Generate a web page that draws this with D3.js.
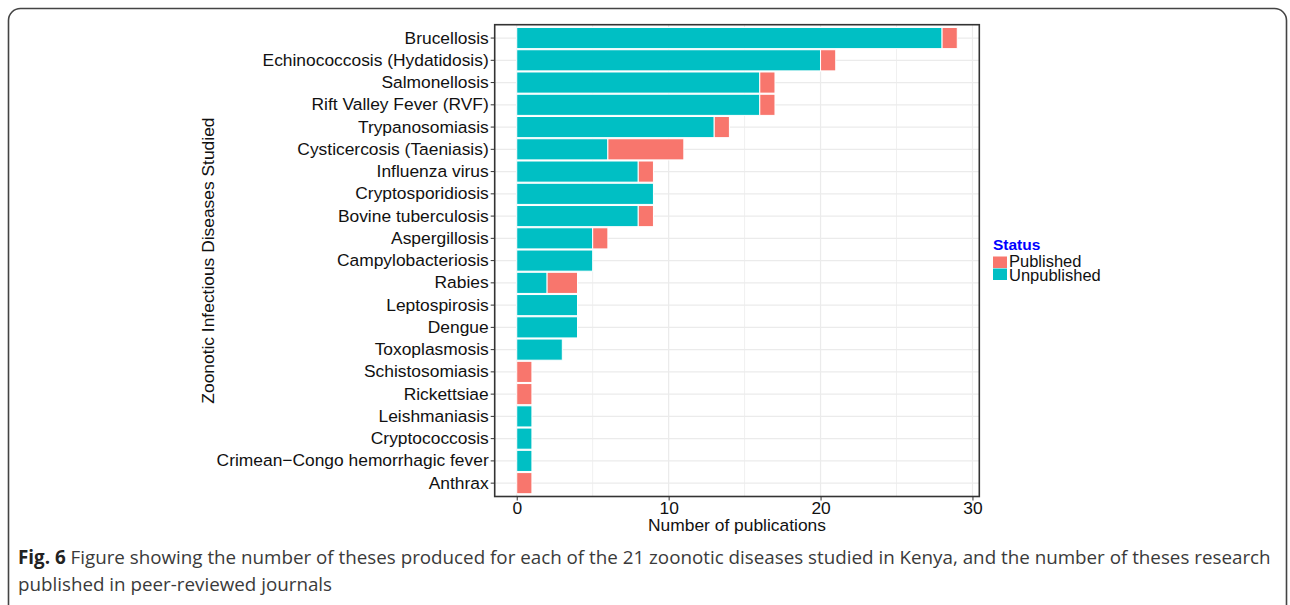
<!DOCTYPE html>
<html>
<head>
<meta charset="utf-8">
<script src="https://cdn.jsdelivr.net/npm/d3@7"></script>
<style>
  body { margin: 0; background: #fff; }
  svg { display: block; }
</style>
</head>
<body>
<div id="containerDiv"></div>
<script>
// diseases, top to bottom as drawn
const diseases = [
  "Brucellosis", "Echinococcosis (Hydatidosis)", "Salmonellosis", "Rift Valley Fever (RVF)",
  "Trypanosomiasis", "Cysticercosis (Taeniasis)", "Influenza virus", "Cryptosporidiosis",
  "Bovine tuberculosis", "Aspergillosis", "Campylobacteriosis", "Rabies", "Leptospirosis",
  "Dengue", "Toxoplasmosis", "Schistosomiasis", "Rickettsiae", "Leishmaniasis",
  "Cryptococcosis", "Crimean\u2212Congo hemorrhagic fever", "Anthrax"
];
// theses not published
const unpublished = [28, 20, 16, 16, 13, 6, 8, 9, 8, 5, 5, 2, 4, 4, 3, 0, 0, 1, 1, 1, 0];
// theses published in journals
const published = [1, 1, 1, 1, 1, 5, 1, 0, 1, 1, 0, 2, 0, 0, 0, 1, 1, 0, 0, 0, 1];
const statusLabels = ["Published", "Unpublished"];
const xTicks = [0, 10, 20, 30];
const xMinor = [5, 15, 25];

const W = 1290, H = 605;
const panel = { left: 494.7, right: 979.3, top: 24.7, bottom: 496.5 };
const colors = { Published: "#F8766D", Unpublished: "#00BFC4" };
const font = "Liberation Sans, Arial, Helvetica, sans-serif";
const fs = 17.4;

let svg = d3.select("#containerDiv").append("svg")
  .attr("width", W).attr("height", H);

// card outline
svg.append("rect")
  .attr("x", 8.5).attr("y", 8.5)
  .attr("width", 1278).attr("height", 640)
  .attr("rx", 12)
  .attr("fill", "none")
  .attr("stroke", "#444")
  .attr("stroke-width", 1.6);

// scales (ggplot style expansion)
const xmax = d3.max(diseases, (d, i) => unpublished[i] + published[i]);
const pad = xmax * 0.05;
let xScale = d3.scaleLinear().domain([-pad, xmax + pad]).range([panel.left, panel.right]);
let yScale = d3.scaleBand().domain(diseases)
  .range([panel.top, panel.bottom])
  .paddingOuter(0.1).paddingInner(0);

// grid
let grid = svg.append("g");
grid.selectAll(".minor").data(xMinor).enter().append("line")
  .attr("x1", d => xScale(d)).attr("x2", d => xScale(d))
  .attr("y1", panel.top).attr("y2", panel.bottom)
  .attr("stroke", "#f0f0f0").attr("stroke-width", 1);
grid.selectAll(".major").data(xTicks).enter().append("line")
  .attr("x1", d => xScale(d)).attr("x2", d => xScale(d))
  .attr("y1", panel.top).attr("y2", panel.bottom)
  .attr("stroke", "#ebebeb").attr("stroke-width", 1.2);
grid.selectAll(".hline").data(diseases).enter().append("line")
  .attr("x1", panel.left).attr("x2", panel.right)
  .attr("y1", d => yScale(d) + yScale.bandwidth() / 2)
  .attr("y2", d => yScale(d) + yScale.bandwidth() / 2)
  .attr("stroke", "#ebebeb").attr("stroke-width", 1.2);

// stacked bars: unpublished first, published after it
const bh = yScale.bandwidth() * 0.95;
let bars = svg.append("g");
diseases.forEach((d, i) => {
  const yc = yScale(d) + yScale.bandwidth() / 2;
  const segs = [
    { key: "Unpublished", x0: 0, x1: unpublished[i] },
    { key: "Published", x0: unpublished[i], x1: unpublished[i] + published[i] }
  ].filter(s => s.x1 > s.x0);
  segs.forEach(s => {
    bars.append("rect")
      .attr("x", xScale(s.x0))
      .attr("y", yc - bh / 2)
      .attr("width", xScale(s.x1) - xScale(s.x0))
      .attr("height", bh)
      .attr("fill", colors[s.key])
      .attr("stroke", "#fff")
      .attr("stroke-width", 1);
  });
});

// panel border
svg.append("rect")
  .attr("x", panel.left).attr("y", panel.top)
  .attr("width", panel.right - panel.left).attr("height", panel.bottom - panel.top)
  .attr("fill", "none").attr("stroke", "#333").attr("stroke-width", 1.6);

// axes
let xAxis = d3.axisBottom(xScale).tickValues(xTicks).tickSize(4).tickPadding(1);
let gX = svg.append("g").attr("transform", `translate(0,${panel.bottom})`).call(xAxis);
gX.select(".domain").remove();
gX.selectAll(".tick line").attr("stroke", "#333");
gX.selectAll(".tick text")
  .attr("font-family", font)
  .attr("font-size", fs).attr("fill", "#111");

let yAxis = d3.axisLeft(yScale).tickSize(4).tickPadding(2);
let gY = svg.append("g").attr("transform", `translate(${panel.left},0)`).call(yAxis);
gY.select(".domain").remove();
gY.selectAll(".tick line").attr("stroke", "#333");
gY.selectAll(".tick text")
  .attr("font-family", font)
  .attr("font-size", fs).attr("fill", "#111");

// axis titles
svg.append("text")
  .attr("x", (panel.left + panel.right) / 2).attr("y", 531)
  .attr("text-anchor", "middle")
  .attr("font-family", font)
  .attr("font-size", fs).attr("fill", "#111")
  .text("Number of publications");
svg.append("text")
  .attr("transform", `translate(214,${(panel.top + panel.bottom) / 2}) rotate(-90)`)
  .attr("text-anchor", "middle")
  .attr("font-family", font)
  .attr("font-size", fs).attr("fill", "#111")
  .text("Zoonotic Infectious Diseases Studied");

// legend
let legend = svg.append("g").attr("transform", "translate(993,250)");
legend.append("text")
  .attr("x", 0).attr("y", 0)
  .attr("font-family", font)
  .attr("font-size", 15.5).attr("font-weight", "bold").attr("fill", "#0000FF")
  .text("Status");
statusLabels.forEach((s, i) => {
  legend.append("rect")
    .attr("x", 0).attr("y", 6.5 + i * 12)
    .attr("width", 14).attr("height", 11.5)
    .attr("fill", colors[s]);
  legend.append("text")
    .attr("x", 16).attr("y", 16.5 + i * 14)
    .attr("font-family", font)
    .attr("font-size", 16.5).attr("fill", "#111")
    .text(s);
});

// caption
let cap = svg.append("g")
  .attr("font-family", "Open Sans, sans-serif")
  .attr("font-size", 18.8).attr("fill", "#3a3a3a");
let line1 = cap.append("text").attr("x", 18).attr("y", 564);
line1.append("tspan").attr("font-weight", "bold").attr("fill", "#222").text("Fig. 6");
line1.append("tspan").text(" Figure showing the number of theses produced for each of the 21 zoonotic diseases studied in Kenya, and the number of theses research");
cap.append("text").attr("x", 18).attr("y", 591)
  .text("published in peer-reviewed journals");
</script>
</body>
</html>
